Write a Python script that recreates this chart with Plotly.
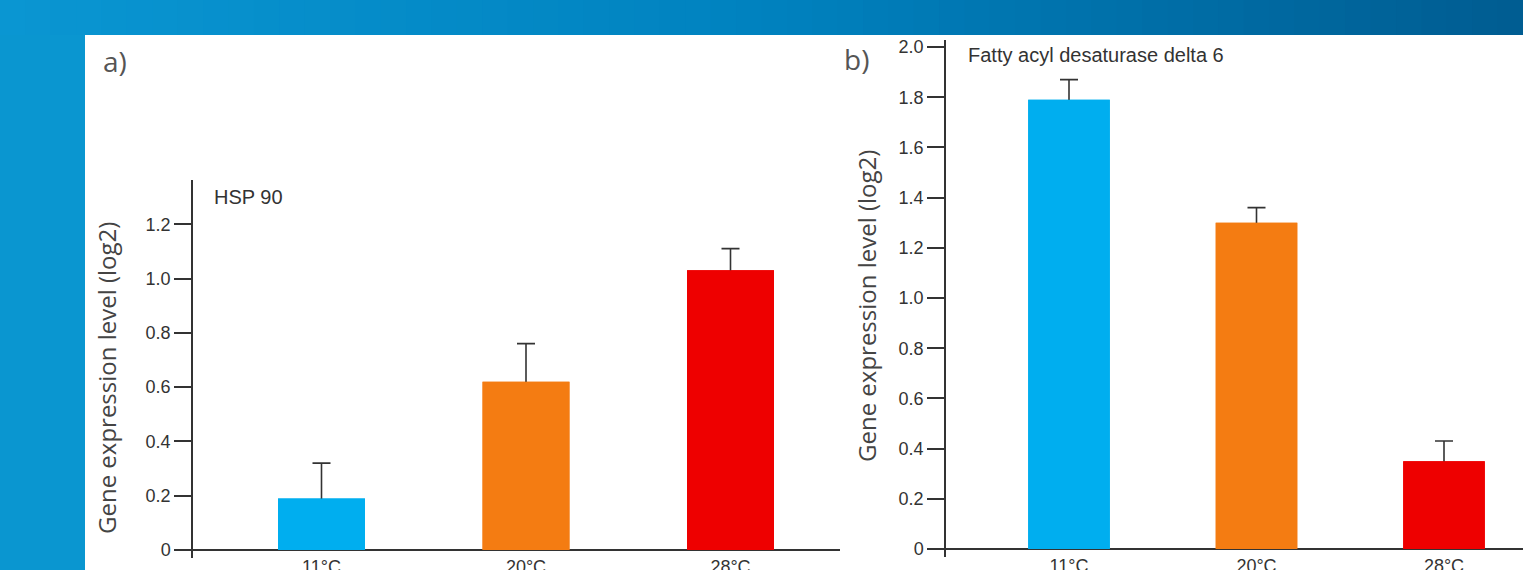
import plotly.graph_objects as go

# ---- data ----
temps = ["11°C", "20°C", "28°C"]
hsp90_vals = [0.19, 0.62, 1.03]
hsp90_err = [0.13, 0.14, 0.08]
fad6_vals = [1.79, 1.30, 0.35]
fad6_err = [0.08, 0.06, 0.08]
bar_colors = ["#00aeef", "#f47c12", "#ee0000"]
a_ticks = [0, 0.2, 0.4, 0.6, 0.8, 1.0, 1.2]
a_ticktext = ["0", "0.2", "0.4", "0.6", "0.8", "1.0", "1.2"]
b_ticks = [0, 0.2, 0.4, 0.6, 0.8, 1.0, 1.2, 1.4, 1.6, 1.8, 2.0]
b_ticktext = ["0", "0.2", "0.4", "0.6", "0.8", "1.0", "1.2", "1.4", "1.6", "1.8", "2.0"]
ytitle = "Gene expression level (log2)"

W, H = 1523, 570
def fx(x): return x / W
def fy(y): return 1 - y / H

fig = go.Figure()

def add_panel(vals, errs, width, xa, ya):
    # bars with upward-only error bars (lower cap hidden inside bar, covered by overlay)
    fig.add_trace(go.Bar(
        x=temps, y=vals, marker=dict(color=bar_colors, line=dict(width=0)),
        width=width, xaxis=xa, yaxis=ya,
        error_y=dict(type="data", array=errs, arrayminus=[0.04] * len(errs), symmetric=False,
                     color="#333333", thickness=1.6, width=9),
        showlegend=False, hoverinfo="skip"))
    fig.add_trace(go.Bar(
        x=temps, y=vals, marker=dict(color=bar_colors, line=dict(width=0)),
        width=width, xaxis=xa, yaxis=ya, showlegend=False))

add_panel(hsp90_vals, hsp90_err, 0.425, "x", "y")
add_panel(fad6_vals, fad6_err, 0.435, "x2", "y2")

tickfont = dict(family="Liberation Sans, Arial", size=18, color="#333333")
yax_common = dict(showline=True, linecolor="#333333", linewidth=1.5,
                  ticks="outside", ticklen=17, tickwidth=1.5, tickcolor="#333333",
                  showgrid=False, zeroline=True, zerolinecolor="#333333", zerolinewidth=1.5,
                  tickfont=tickfont, anchor="free", automargin=False)
xax_common = dict(showline=False, ticks="", ticklabelstandoff=-4,
                  showgrid=False, zeroline=False, tickfont=tickfont, type="category",
                  automargin=False)

fig.update_layout(
    width=W, height=H, margin=dict(l=0, r=0, t=0, b=0, autoexpand=False), barmode="overlay",
    paper_bgcolor="white", plot_bgcolor="rgba(0,0,0,0)",
    xaxis=dict(domain=[fx(180), fx(840)],
               range=[(180 - 321.5) / 204.5, (840 - 321.5) / 204.5], anchor="y", **xax_common),
    yaxis=dict(domain=[fy(558), fy(180)], range=[-8 / 271.5, 370 / 271.5],
               tickvals=a_ticks, ticktext=a_ticktext, position=fx(192), **yax_common),
    xaxis2=dict(domain=[fx(930), 1.0],
                range=[(930 - 1069) / 187.5, (1523 - 1069) / 187.5], anchor="y2", **xax_common),
    yaxis2=dict(domain=[fy(557), fy(40)], range=[-8 / 251, 509 / 251],
                tickvals=b_ticks, ticktext=b_ticktext, position=fx(945), **yax_common),
)

# background decoration: blue frame with gradient
shapes = []
def lerp(c1, c2, t):
    return tuple(round(a + (b - a) * t) for a, b in zip(c1, c2))
c_left = (10, 150, 210)
c_mid = (0, 130, 191)
c_right = (0, 92, 145)
n = 60
for i in range(n):
    t = (i + 0.5) / n
    if t < 0.5:
        c = lerp(c_left, c_mid, t / 0.5)
    else:
        c = lerp(c_mid, c_right, (t - 0.5) / 0.5)
    shapes.append(dict(type="rect", xref="paper", yref="paper",
                       x0=i / n, x1=(i + 1) / n + 0.001, y0=fy(35), y1=1,
                       fillcolor="rgb(%d,%d,%d)" % c, line=dict(width=0), layer="below"))
shapes.append(dict(type="rect", xref="paper", yref="paper", x0=0, x1=fx(85), y0=0, y1=fy(35),
                   fillcolor="rgb(10,150,208)", line=dict(width=0), layer="below"))
fig.update_layout(shapes=shapes)

label_font = dict(family="Open Sans, Noto Sans", size=28, color="#555555")
title_font = dict(family="Open Sans, Noto Sans", size=24, color="#444444")
ann_font = dict(family="Liberation Sans, Arial", size=20, color="#333333")
fig.update_layout(annotations=[
    dict(text="a)", x=fx(101), y=fy(61), xref="paper", yref="paper",
         xanchor="left", yanchor="middle", showarrow=False, font=label_font),
    dict(text="b)", x=fx(842), y=fy(59), xref="paper", yref="paper",
         xanchor="left", yanchor="middle", showarrow=False, font=label_font),
    dict(text="HSP 90", x=fx(212), y=fy(197), xref="paper", yref="paper",
         xanchor="left", yanchor="middle", showarrow=False, font=ann_font),
    dict(text="Fatty acyl desaturase delta 6", x=fx(966), y=fy(55), xref="paper", yref="paper",
         xanchor="left", yanchor="middle", showarrow=False, font=ann_font),
    dict(text=ytitle, x=fx(106), y=fy(378), xref="paper", yref="paper",
         xanchor="center", yanchor="middle", textangle=-90, showarrow=False, font=title_font),
    dict(text=ytitle, x=fx(866), y=fy(306), xref="paper", yref="paper",
         xanchor="center", yanchor="middle", textangle=-90, showarrow=False, font=title_font),
])

fig.write_html("out.html", config={"displayModeBar": False},
               post_script="document.body.style.margin='0';")
